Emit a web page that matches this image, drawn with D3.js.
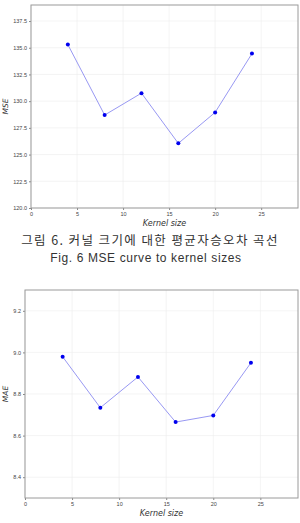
<!DOCTYPE html>
<html>
<head>
<meta charset="utf-8">
<script src="https://cdn.jsdelivr.net/npm/d3@7"></script>
<style>
  body { margin: 0; background: #fff; }
  svg { display: block; }
</style>
</head>
<body>
<svg id="fig" width="300" height="523"></svg>
<script>
// kernel sizes shared by both plots
var kernelSizes = [4, 8, 12, 16, 20, 24];
var mseValues = [135.3, 128.7, 130.75, 126.05, 128.95, 134.45];
var maeValues = [8.979, 8.734, 8.882, 8.665, 8.697, 8.95];
var xTicks = [0, 5, 10, 15, 20, 25];
var mseTicks = [120.0, 122.5, 125.0, 127.5, 130.0, 132.5, 135.0, 137.5];
var maeTicks = [8.4, 8.6, 8.8, 9.0, 9.2];

var svg = d3.select("#fig");

function drawPanel(opts) {
  var x = d3.scaleLinear().domain([0, 29]).range([opts.left, opts.right]);
  var y = d3.scaleLinear().domain(opts.yDomain).range([opts.bottom, opts.top]);
  var g = svg.append("g");

  // grid
  g.append("g")
    .selectAll("line")
    .data(xTicks)
    .join("line")
    .attr("x1", (d) => x(d))
    .attr("x2", (d) => x(d))
    .attr("y1", opts.top)
    .attr("y2", opts.bottom)
    .attr("stroke", "#ececec")
    .attr("stroke-width", 0.6);
  g.append("g")
    .selectAll("line")
    .data(opts.yTicks)
    .join("line")
    .attr("x1", opts.left)
    .attr("x2", opts.right)
    .attr("y1", (d) => y(d))
    .attr("y2", (d) => y(d))
    .attr("stroke", "#ececec")
    .attr("stroke-width", 0.6);

  // axes
  g.append("g")
    .attr("transform", `translate(0,${opts.bottom})`)
    .call(d3.axisBottom(x).tickValues(xTicks).tickSize(2).tickPadding(2).tickSizeOuter(0))
    .call((a) => a.select(".domain").remove())
    .call((a) => a.selectAll("text").attr("font-size", 5.5).attr("fill", "#444"))
    .call((a) => a.selectAll("line").attr("stroke", "#888"));
  g.append("g")
    .attr("transform", `translate(${opts.left},0)`)
    .call(d3.axisLeft(y).tickValues(opts.yTicks).tickFormat(d3.format(opts.fmt)).tickSize(2).tickPadding(2))
    .call((a) => a.select(".domain").remove())
    .call((a) => a.selectAll("text").attr("font-size", 5.5).attr("fill", "#444"))
    .call((a) => a.selectAll("line").attr("stroke", "#888"));

  // frame
  g.append("rect")
    .attr("x", opts.left)
    .attr("y", opts.top)
    .attr("width", opts.right - opts.left)
    .attr("height", opts.bottom - opts.top)
    .attr("fill", "none")
    .attr("stroke", "#9a9a9a")
    .attr("stroke-width", 1);

  // line + markers
  var pts = kernelSizes.map((k, i) => [k, opts.values[i]]);
  g.append("path")
    .datum(pts)
    .attr("fill", "none")
    .attr("stroke", "#8c8cf0")
    .attr("stroke-width", 0.9)
    .attr("d", d3.line().x((d) => x(d[0])).y((d) => y(d[1])));
  g.append("g")
    .selectAll("circle")
    .data(pts)
    .join("circle")
    .attr("cx", (d) => x(d[0]))
    .attr("cy", (d) => y(d[1]))
    .attr("r", 2)
    .attr("fill", "#0000ee");

  // labels
  g.append("text")
    .attr("x", (opts.left + opts.right) / 2)
    .attr("y", opts.bottom + 18)
    .attr("text-anchor", "middle")
    .attr("font-family", "DejaVu Sans")
    .attr("font-style", "italic")
    .attr("font-size", 8)
    .attr("fill", "#333")
    .text("Kernel size");
  g.append("text")
    .attr("transform", `translate(8,${(opts.top + opts.bottom) / 2}) rotate(-90)`)
    .attr("text-anchor", "middle")
    .attr("font-family", "DejaVu Sans")
    .attr("font-style", "italic")
    .attr("font-size", 7.5)
    .attr("fill", "#333")
    .text(opts.label);
}

drawPanel({ left: 31, right: 298, top: 5, bottom: 208, yDomain: [120, 139], yTicks: mseTicks, fmt: ".1f", values: mseValues, label: "MSE" });
drawPanel({ left: 25, right: 298, top: 290, bottom: 498, yDomain: [8.3, 9.3], yTicks: maeTicks, fmt: ".1f", values: maeValues, label: "MAE" });

// caption
svg.append("text")
  .attr("x", 150)
  .attr("y", 245)
  .attr("text-anchor", "middle")
  .attr("font-family", "Noto Sans CJK KR")
  .attr("font-size", 12.5)
  .attr("letter-spacing", 1.4)
  .attr("fill", "#333")
  .text("그림 6. 커널 크기에 대한 평균자승오차 곡선");
svg.append("text")
  .attr("x", 146)
  .attr("y", 262)
  .attr("text-anchor", "middle")
  .attr("font-family", "Liberation Sans")
  .attr("font-size", 12)
  .attr("letter-spacing", 0.6)
  .attr("fill", "#333")
  .text("Fig. 6 MSE curve to kernel sizes");
</script>
</body>
</html>
